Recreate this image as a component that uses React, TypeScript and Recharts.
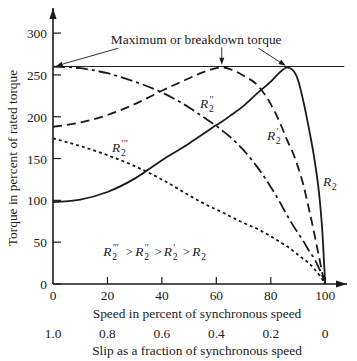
import { LineChart, Line, XAxis, YAxis, ReferenceLine, ReferenceDot } from 'recharts';

// speed in percent of synchronous speed
const speed = [0, 10, 20, 30, 40, 50, 55, 60, 62, 65, 70, 75, 80, 84, 86, 88, 90, 92, 94, 96, 98, 99, 100];
// torque in percent of rated torque, one list per rotor resistance
const torqueR2 = [98, 101, 110, 126, 148, 168, 179, 190, 194, 201, 213, 228, 242, 255, 259, 256, 244, 218, 186, 150, 100, 60, 0];
const torqueR2p = [188, 193, 202, 215, 231, 246, 253, 258, 259, 257, 249, 238, 215, 188, 172, 158, 140, 118, 90, 60, 28, 12, 0];
const torqueR2pp = [260, 258, 252, 242, 229, 211, 200, 189, 184, 176, 160, 140, 116, 94, 82, 71, 61, 51, 40, 30, 17, 9, 0];
const torqueR2ppp = [174, 165, 154, 141, 125, 106, 97, 89, 86, 81, 73, 66, 57, 49, 45, 40, 35, 30, 25, 18, 10, 5, 0];

const speedTicks = [0, 20, 40, 60, 80, 100];
const slipLabels = ['1.0', '0.8', '0.6', '0.4', '0.2', '0'];
const torqueTicks = [0, 50, 100, 150, 200, 250, 300];
const breakdownTorque = 260;

const data = speed.map((s, i) => ({
    speed: s,
    r2: torqueR2[i],
    r2p: torqueR2p[i],
    r2pp: torqueR2pp[i],
    r2ppp: torqueR2ppp[i],
}));

const FONT = '"Liberation Serif", "DejaVu Serif", serif';
const INK = '#1a1a1a';
const FS = 13.4;

const YTick = (props: any) => {
    const { x, y, payload } = props;
    const ax = x + 6;
    return (
        <g>
            <line x1={ax} y1={y} x2={ax + 8} y2={y} stroke={INK} strokeWidth={1.2} />
            <text x={x} y={y + 5} textAnchor="end" fontSize={FS} fontFamily={FONT} fill={INK}>
                {payload.value}
            </text>
        </g>
    );
};

const XTick = (props: any) => {
    const { x, y, payload, index } = props;
    return (
        <g>
            {payload.value > 0 && <line x1={x} y1={y} x2={x} y2={y - 7} stroke={INK} strokeWidth={1.2} />}
            <text x={x} y={y + 16} textAnchor="middle" fontSize={FS} fontFamily={FONT} fill={INK}>
                {payload.value}
            </text>
            <text x={x} y={y + 54} textAnchor="middle" fontSize={FS} fontFamily={FONT} fill={INK}>
                {slipLabels[index]}
            </text>
        </g>
    );
};

const XLabel = (props: any) => {
    const { viewBox } = props;
    const cx = viewBox.x + viewBox.width / 2 - 3;
    return (
        <g fontFamily={FONT} fontSize={FS} fill={INK}>
            <text x={cx} y={viewBox.y + 34} textAnchor="middle">Speed in percent of synchronous speed</text>
            <text x={cx} y={viewBox.y + 71} textAnchor="middle">Slip as a fraction of synchronous speed</text>
        </g>
    );
};

const YLabel = () => (
    <text x={0} y={0} transform="translate(17,158) rotate(-90)" textAnchor="middle" fontSize={FS} fontFamily={FONT} fill={INK}>
        Torque in percent of rated torque
    </text>
);

// R with primes above and subscript 2 below
const RTerm = ({ x, y, primes }: { x: number; y: number; primes: string }) => (
    <g fontFamily={FONT} fill={INK}>
        <text x={x} y={y} fontSize={FS} fontStyle="italic">R</text>
        {primes && (
            <text x={x + 9} y={y - 5} fontSize={9.5} fontStyle="italic">{primes}</text>
        )}
        <text x={x + 9} y={y + 4} fontSize={9.5}>2</text>
    </g>
);

const curveLabel = (primes: string) => (props: any) => (
    <RTerm x={props.cx} y={props.cy} primes={primes} />
);

const Gt = ({ x, y }: { x: number; y: number }) => (
    <text x={x} y={y} fontSize={12.5} fontFamily={FONT} fill={INK}>&gt;</text>
);

const Inequality = (props: any) => {
    const { cx, cy } = props;
    return (
        <g>
            <RTerm x={cx - 53} y={cy} primes="′′′" />
            <Gt x={cx - 30.5} y={cy} />
            <RTerm x={cx - 21} y={cy} primes="′′" />
            <Gt x={cx - 1.5} y={cy} />
            <RTerm x={cx + 7.5} y={cy} primes="′" />
            <Gt x={cx + 26.5} y={cy} />
            <RTerm x={cx + 36} y={cy} primes="" />
        </g>
    );
};

const Title = (props: any) => (
    <text x={props.cx} y={props.cy} textAnchor="middle" fontSize={FS} fontFamily={FONT} fill={INK}>
        Maximum or breakdown torque
    </text>
);

const Arrow = (props: any) => {
    const { x1, y1, x2, y2 } = props;
    const a = Math.atan2(y2 - y1, x2 - x1);
    const len = 7;
    const w = 2.5;
    const bx = x2 - len * Math.cos(a);
    const by = y2 - len * Math.sin(a);
    const px = -Math.sin(a) * w;
    const py = Math.cos(a) * w;
    return (
        <g>
            <line x1={x1} y1={y1} x2={bx} y2={by} stroke={INK} strokeWidth={0.9} />
            <polygon points={`${x2},${y2} ${bx + px},${by + py} ${bx - px},${by - py}`} fill={INK} />
        </g>
    );
};

const UpHead = (props: any) => (
    <polygon points={`${props.cx},${props.cy} ${props.cx - 3.5},${props.cy + 11} ${props.cx + 3.5},${props.cy + 11}`} fill={INK} />
);

const RightHead = (props: any) => (
    <polygon points={`${props.cx},${props.cy} ${props.cx - 11},${props.cy - 3.5} ${props.cx - 11},${props.cy + 3.5}`} fill={INK} />
);

export default function App() {
    return (
        <div style={{ width: 357, height: 361, background: '#fff' }}>
            <style>{'body{margin:0}'}</style>
            <LineChart width={357} height={361} data={data} margin={{ top: 8, right: 10, bottom: 0, left: 0 }}>
                <XAxis
                    dataKey="speed"
                    type="number"
                    domain={[0, 108]}
                    ticks={speedTicks}
                    interval={0}
                    tickSize={0}
                    tickMargin={0}
                    tick={<XTick />}
                    height={77}
                    axisLine={{ stroke: INK, strokeWidth: 1.6 }}
                    tickLine={false}
                    label={<XLabel />}
                />
                <YAxis
                    type="number"
                    domain={[0, 330]}
                    ticks={torqueTicks}
                    interval={0}
                    tickSize={0}
                    tickMargin={6}
                    tick={<YTick />}
                    width={53}
                    axisLine={{ stroke: INK, strokeWidth: 1.6 }}
                    tickLine={false}
                    label={<YLabel />}
                />
                <ReferenceLine
                    segment={[{ x: 0, y: breakdownTorque }, { x: 107, y: breakdownTorque }]}
                    stroke={INK}
                    strokeWidth={1}
                />
                <ReferenceLine segment={[{ x: 24, y: 282 }, { x: 1, y: 260.5 }]} shape={Arrow} />
                <ReferenceLine segment={[{ x: 62, y: 283 }, { x: 62, y: 262 }]} shape={Arrow} />
                <ReferenceLine segment={[{ x: 75.4, y: 282 }, { x: 85.5, y: 261 }]} shape={Arrow} />
                <ReferenceDot x={0} y={330} shape={UpHead} ifOverflow="visible" />
                <ReferenceDot x={108} y={0} shape={RightHead} ifOverflow="visible" />

                <Line dataKey="r2" type="monotone" stroke={INK} strokeWidth={1.8} dot={false} isAnimationActive={false} />
                <Line dataKey="r2p" type="monotone" stroke={INK} strokeWidth={1.8} strokeDasharray="9 5" dot={false} isAnimationActive={false} />
                <Line dataKey="r2pp" type="monotone" stroke={INK} strokeWidth={1.8} strokeDasharray="12 4 3 4" dot={false} isAnimationActive={false} />
                <Line dataKey="r2ppp" type="monotone" stroke={INK} strokeWidth={1.8} strokeDasharray="3 3" dot={false} isAnimationActive={false} />

                <ReferenceDot x={52.6} y={287} shape={Title} ifOverflow="visible" />
                <ReferenceDot x={54} y={210} shape={curveLabel('′′')} ifOverflow="visible" />
                <ReferenceDot x={78.6} y={172} shape={curveLabel('′')} ifOverflow="visible" />
                <ReferenceDot x={99.2} y={117} shape={curveLabel('')} ifOverflow="visible" />
                <ReferenceDot x={21.7} y={158} shape={curveLabel('′′′')} ifOverflow="visible" />
                <ReferenceDot x={37.9} y={34} shape={Inequality} ifOverflow="visible" />
            </LineChart>
        </div>
    );
}
